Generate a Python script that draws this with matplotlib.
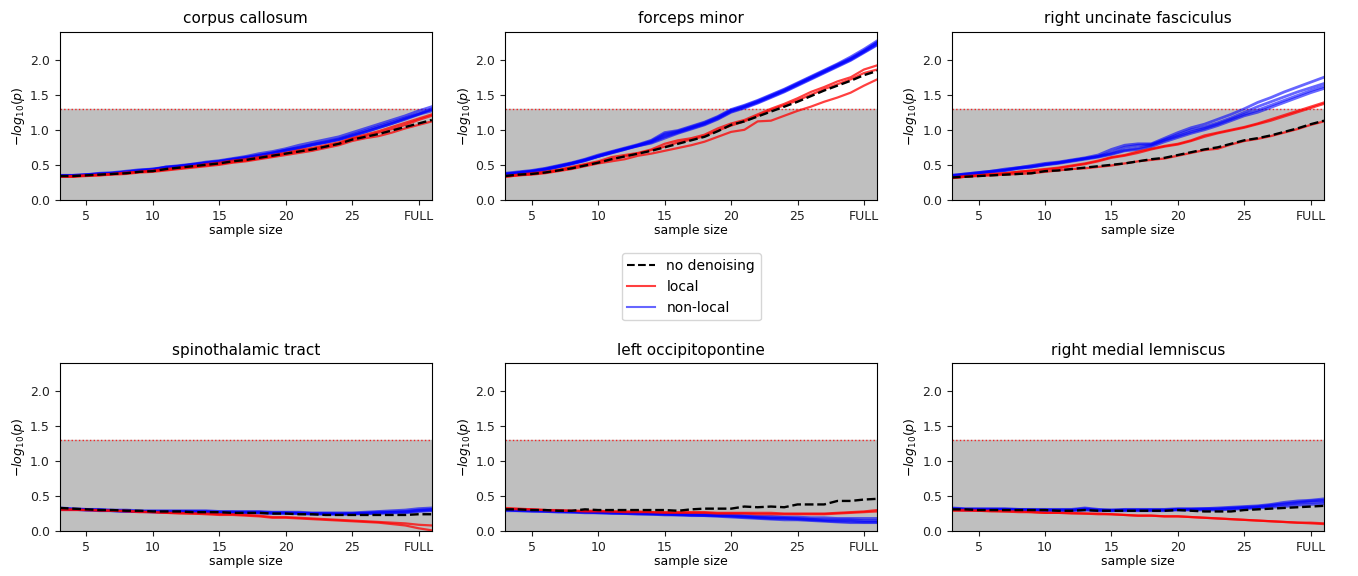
import numpy as np
import matplotlib
matplotlib.use('Agg')
import matplotlib.pyplot as plt

# sample sizes 3..31, the last tick (30) is labelled FULL
sample_sizes = list(range(3, 32))
tick_pos = [5, 10, 15, 20, 25, 30]
tick_labels = ['5', '10', '15', '20', '25', 'FULL']
threshold = 1.3  # -log10(0.05)

titles = ['corpus callosum', 'forceps minor', 'right uncinate fasciculus',
          'spinothalamic tract', 'left occipitopontine', 'right medial lemniscus']

# corpus callosum
cc_none = [0.34, 0.34, 0.35, 0.36, 0.37, 0.38, 0.40, 0.41, 0.44, 0.46, 0.48, 0.50, 0.52, 0.55, 0.57, 0.60, 0.63, 0.66, 0.69, 0.72, 0.76, 0.80, 0.86, 0.90, 0.94, 0.99, 1.04, 1.09, 1.14]
cc_local = [
    [0.34, 0.34, 0.35, 0.36, 0.37, 0.39, 0.40, 0.42, 0.44, 0.46, 0.48, 0.51, 0.53, 0.56, 0.58, 0.61, 0.64, 0.67, 0.71, 0.74, 0.78, 0.82, 0.88, 0.93, 0.98, 1.04, 1.10, 1.16, 1.22],
    [0.33, 0.33, 0.35, 0.35, 0.37, 0.38, 0.40, 0.41, 0.43, 0.45, 0.47, 0.49, 0.51, 0.54, 0.56, 0.59, 0.62, 0.66, 0.69, 0.72, 0.76, 0.80, 0.87, 0.91, 0.96, 1.01, 1.07, 1.14, 1.20],
    [0.33, 0.33, 0.34, 0.35, 0.36, 0.37, 0.39, 0.40, 0.42, 0.44, 0.46, 0.48, 0.50, 0.53, 0.55, 0.58, 0.61, 0.64, 0.67, 0.70, 0.74, 0.78, 0.84, 0.88, 0.91, 0.96, 1.02, 1.07, 1.12],
]
cc_nonlocal = [
    [0.35, 0.35, 0.36, 0.37, 0.38, 0.40, 0.42, 0.43, 0.46, 0.48, 0.50, 0.53, 0.55, 0.58, 0.61, 0.64, 0.67, 0.71, 0.75, 0.79, 0.83, 0.87, 0.93, 0.99, 1.05, 1.11, 1.17, 1.23, 1.29],
    [0.34, 0.34, 0.36, 0.37, 0.38, 0.39, 0.41, 0.43, 0.47, 0.48, 0.51, 0.52, 0.54, 0.57, 0.60, 0.63, 0.66, 0.70, 0.74, 0.79, 0.82, 0.86, 0.92, 0.97, 1.03, 1.09, 1.15, 1.22, 1.27],
    [0.35, 0.35, 0.36, 0.38, 0.39, 0.41, 0.43, 0.44, 0.47, 0.49, 0.51, 0.54, 0.56, 0.59, 0.62, 0.66, 0.69, 0.73, 0.78, 0.82, 0.86, 0.90, 0.96, 1.02, 1.08, 1.14, 1.20, 1.27, 1.33],
    [0.34, 0.35, 0.35, 0.37, 0.38, 0.40, 0.42, 0.44, 0.46, 0.48, 0.50, 0.53, 0.55, 0.58, 0.60, 0.63, 0.67, 0.71, 0.74, 0.78, 0.82, 0.86, 0.91, 0.97, 1.03, 1.09, 1.16, 1.22, 1.30],
]

# forceps minor
fm_none = [0.34, 0.36, 0.37, 0.39, 0.42, 0.45, 0.49, 0.53, 0.58, 0.62, 0.66, 0.70, 0.75, 0.80, 0.85, 0.90, 0.98, 1.07, 1.12, 1.19, 1.26, 1.33, 1.40, 1.48, 1.56, 1.63, 1.70, 1.78, 1.84]
fm_local = [
    [0.34, 0.36, 0.38, 0.40, 0.43, 0.47, 0.51, 0.55, 0.61, 0.64, 0.67, 0.72, 0.80, 0.85, 0.88, 0.93, 1.02, 1.09, 1.14, 1.22, 1.30, 1.37, 1.45, 1.54, 1.61, 1.69, 1.75, 1.86, 1.92],
    [0.33, 0.35, 0.37, 0.39, 0.42, 0.46, 0.50, 0.54, 0.58, 0.62, 0.66, 0.71, 0.76, 0.82, 0.86, 0.91, 0.99, 1.06, 1.12, 1.20, 1.28, 1.35, 1.42, 1.50, 1.58, 1.65, 1.72, 1.81, 1.86],
    [0.33, 0.35, 0.36, 0.38, 0.41, 0.44, 0.48, 0.52, 0.55, 0.58, 0.63, 0.66, 0.70, 0.74, 0.78, 0.83, 0.90, 0.97, 1.00, 1.12, 1.13, 1.20, 1.27, 1.33, 1.40, 1.46, 1.53, 1.63, 1.72],
]
fm_nonlocal = [
    [0.36, 0.38, 0.40, 0.43, 0.47, 0.51, 0.56, 0.62, 0.67, 0.72, 0.77, 0.81, 0.88, 0.95, 1.01, 1.07, 1.15, 1.25, 1.31, 1.38, 1.46, 1.54, 1.63, 1.72, 1.81, 1.90, 1.99, 2.10, 2.21],
    [0.37, 0.39, 0.41, 0.44, 0.48, 0.52, 0.57, 0.63, 0.68, 0.73, 0.78, 0.83, 0.92, 0.97, 1.03, 1.09, 1.17, 1.27, 1.33, 1.40, 1.48, 1.56, 1.65, 1.74, 1.83, 1.92, 2.01, 2.12, 2.24],
    [0.38, 0.40, 0.42, 0.45, 0.49, 0.53, 0.58, 0.64, 0.69, 0.74, 0.79, 0.85, 0.96, 0.99, 1.05, 1.11, 1.19, 1.29, 1.35, 1.42, 1.50, 1.58, 1.67, 1.76, 1.85, 1.94, 2.04, 2.15, 2.27],
    [0.36, 0.39, 0.41, 0.44, 0.48, 0.52, 0.57, 0.62, 0.67, 0.72, 0.78, 0.84, 0.94, 0.98, 1.04, 1.10, 1.18, 1.28, 1.34, 1.41, 1.49, 1.57, 1.66, 1.75, 1.84, 1.93, 2.02, 2.13, 2.25],
    [0.37, 0.38, 0.40, 0.43, 0.47, 0.52, 0.56, 0.62, 0.68, 0.73, 0.77, 0.82, 0.90, 0.96, 1.02, 1.08, 1.16, 1.26, 1.32, 1.39, 1.47, 1.55, 1.64, 1.73, 1.82, 1.91, 2.00, 2.11, 2.22],
]

# right uncinate fasciculus
uf_none = [0.32, 0.33, 0.34, 0.35, 0.36, 0.37, 0.38, 0.41, 0.42, 0.44, 0.46, 0.48, 0.50, 0.52, 0.55, 0.58, 0.60, 0.64, 0.68, 0.72, 0.75, 0.80, 0.85, 0.88, 0.92, 0.97, 1.02, 1.08, 1.13]
uf_local = [
    [0.32, 0.34, 0.35, 0.37, 0.38, 0.40, 0.42, 0.44, 0.46, 0.49, 0.52, 0.56, 0.61, 0.64, 0.69, 0.73, 0.77, 0.80, 0.85, 0.92, 0.96, 1.00, 1.04, 1.09, 1.15, 1.21, 1.27, 1.33, 1.39],
    [0.31, 0.33, 0.35, 0.36, 0.38, 0.40, 0.41, 0.43, 0.45, 0.48, 0.51, 0.55, 0.60, 0.63, 0.67, 0.72, 0.76, 0.79, 0.84, 0.90, 0.95, 0.99, 1.03, 1.08, 1.13, 1.19, 1.25, 1.31, 1.37],
    [0.31, 0.33, 0.34, 0.35, 0.36, 0.37, 0.38, 0.40, 0.42, 0.44, 0.45, 0.47, 0.49, 0.52, 0.55, 0.57, 0.59, 0.63, 0.67, 0.71, 0.73, 0.79, 0.84, 0.87, 0.91, 0.96, 1.01, 1.07, 1.12],
]
uf_nonlocal = [
    [0.34, 0.36, 0.38, 0.40, 0.42, 0.45, 0.47, 0.50, 0.52, 0.55, 0.58, 0.61, 0.65, 0.70, 0.72, 0.76, 0.83, 0.89, 0.95, 1.00, 1.06, 1.13, 1.20, 1.25, 1.32, 1.39, 1.46, 1.53, 1.59],
    [0.35, 0.37, 0.39, 0.41, 0.43, 0.46, 0.48, 0.51, 0.53, 0.56, 0.59, 0.62, 0.66, 0.71, 0.74, 0.78, 0.85, 0.91, 0.97, 1.02, 1.08, 1.15, 1.22, 1.28, 1.35, 1.42, 1.49, 1.56, 1.62],
    [0.35, 0.37, 0.39, 0.41, 0.44, 0.46, 0.49, 0.52, 0.54, 0.57, 0.60, 0.64, 0.72, 0.78, 0.80, 0.80, 0.88, 0.96, 1.03, 1.08, 1.15, 1.22, 1.30, 1.39, 1.46, 1.54, 1.61, 1.68, 1.75],
    [0.34, 0.36, 0.38, 0.40, 0.42, 0.45, 0.47, 0.50, 0.53, 0.56, 0.59, 0.62, 0.68, 0.75, 0.78, 0.79, 0.86, 0.93, 1.00, 1.04, 1.10, 1.17, 1.25, 1.33, 1.40, 1.47, 1.54, 1.60, 1.66],
]

# spinothalamic tract
st_none = [0.33, 0.32, 0.31, 0.30, 0.30, 0.29, 0.29, 0.28, 0.28, 0.28, 0.27, 0.27, 0.27, 0.26, 0.26, 0.26, 0.25, 0.25, 0.24, 0.24, 0.23, 0.23, 0.23, 0.23, 0.23, 0.23, 0.23, 0.24, 0.24]
st_local = [
    [0.31, 0.31, 0.30, 0.30, 0.29, 0.29, 0.28, 0.27, 0.26, 0.26, 0.25, 0.25, 0.24, 0.24, 0.23, 0.22, 0.20, 0.20, 0.19, 0.18, 0.17, 0.16, 0.15, 0.14, 0.13, 0.12, 0.11, 0.09, 0.08],
    [0.30, 0.30, 0.30, 0.29, 0.29, 0.28, 0.27, 0.27, 0.26, 0.25, 0.25, 0.24, 0.23, 0.23, 0.22, 0.21, 0.19, 0.19, 0.18, 0.17, 0.16, 0.15, 0.14, 0.13, 0.12, 0.10, 0.08, 0.04, 0.01],
]
st_nonlocal = [
    [0.32, 0.31, 0.31, 0.30, 0.29, 0.29, 0.28, 0.28, 0.28, 0.28, 0.28, 0.28, 0.27, 0.27, 0.27, 0.27, 0.26, 0.26, 0.26, 0.25, 0.25, 0.25, 0.25, 0.26, 0.27, 0.27, 0.28, 0.30, 0.31],
    [0.31, 0.31, 0.30, 0.29, 0.29, 0.28, 0.28, 0.27, 0.27, 0.27, 0.27, 0.27, 0.26, 0.26, 0.26, 0.26, 0.25, 0.25, 0.25, 0.24, 0.24, 0.24, 0.24, 0.25, 0.25, 0.26, 0.26, 0.28, 0.29],
    [0.33, 0.32, 0.31, 0.31, 0.30, 0.30, 0.29, 0.29, 0.29, 0.29, 0.29, 0.29, 0.28, 0.28, 0.28, 0.28, 0.27, 0.27, 0.27, 0.26, 0.26, 0.26, 0.26, 0.27, 0.28, 0.29, 0.30, 0.32, 0.33],
    [0.32, 0.31, 0.30, 0.30, 0.29, 0.28, 0.28, 0.28, 0.27, 0.28, 0.28, 0.27, 0.27, 0.27, 0.26, 0.26, 0.26, 0.26, 0.25, 0.25, 0.25, 0.24, 0.25, 0.25, 0.26, 0.27, 0.27, 0.29, 0.30],
]

# left occipitopontine
op_none = [0.31, 0.31, 0.30, 0.30, 0.29, 0.29, 0.31, 0.30, 0.30, 0.30, 0.30, 0.30, 0.30, 0.29, 0.31, 0.32, 0.32, 0.32, 0.35, 0.34, 0.35, 0.34, 0.38, 0.38, 0.38, 0.43, 0.43, 0.45, 0.46]
op_local = [
    [0.33, 0.32, 0.31, 0.30, 0.30, 0.29, 0.29, 0.29, 0.28, 0.28, 0.28, 0.27, 0.27, 0.27, 0.27, 0.27, 0.26, 0.26, 0.26, 0.26, 0.26, 0.25, 0.25, 0.25, 0.25, 0.26, 0.27, 0.28, 0.30],
    [0.32, 0.31, 0.31, 0.30, 0.29, 0.29, 0.28, 0.28, 0.28, 0.27, 0.27, 0.27, 0.26, 0.26, 0.26, 0.26, 0.25, 0.25, 0.25, 0.24, 0.24, 0.24, 0.24, 0.24, 0.24, 0.25, 0.26, 0.27, 0.28],
]
op_nonlocal = [
    [0.31, 0.30, 0.29, 0.29, 0.28, 0.28, 0.27, 0.27, 0.26, 0.26, 0.25, 0.25, 0.24, 0.24, 0.23, 0.23, 0.22, 0.22, 0.21, 0.20, 0.19, 0.19, 0.18, 0.17, 0.16, 0.16, 0.16, 0.15, 0.15],
    [0.30, 0.29, 0.29, 0.28, 0.28, 0.27, 0.27, 0.26, 0.26, 0.25, 0.25, 0.24, 0.24, 0.23, 0.23, 0.22, 0.22, 0.21, 0.20, 0.19, 0.18, 0.18, 0.17, 0.16, 0.15, 0.14, 0.14, 0.13, 0.13],
    [0.31, 0.30, 0.30, 0.29, 0.29, 0.28, 0.28, 0.27, 0.27, 0.26, 0.26, 0.25, 0.25, 0.24, 0.24, 0.24, 0.23, 0.23, 0.22, 0.21, 0.21, 0.20, 0.20, 0.19, 0.19, 0.18, 0.18, 0.18, 0.18],
    [0.29, 0.29, 0.28, 0.28, 0.27, 0.27, 0.26, 0.26, 0.25, 0.25, 0.24, 0.24, 0.23, 0.23, 0.22, 0.22, 0.21, 0.20, 0.19, 0.18, 0.17, 0.16, 0.16, 0.15, 0.14, 0.13, 0.12, 0.12, 0.12],
]

# right medial lemniscus
ml_none = [0.31, 0.31, 0.30, 0.30, 0.30, 0.30, 0.30, 0.30, 0.29, 0.29, 0.30, 0.29, 0.29, 0.29, 0.29, 0.29, 0.29, 0.30, 0.29, 0.28, 0.28, 0.28, 0.30, 0.31, 0.32, 0.33, 0.34, 0.35, 0.36]
ml_local = [
    [0.30, 0.30, 0.29, 0.29, 0.28, 0.28, 0.27, 0.26, 0.26, 0.26, 0.25, 0.25, 0.24, 0.23, 0.22, 0.22, 0.21, 0.21, 0.20, 0.19, 0.18, 0.17, 0.16, 0.15, 0.14, 0.13, 0.12, 0.12, 0.11],
    [0.29, 0.29, 0.29, 0.28, 0.28, 0.27, 0.27, 0.26, 0.26, 0.25, 0.25, 0.24, 0.24, 0.23, 0.22, 0.22, 0.21, 0.21, 0.20, 0.19, 0.18, 0.17, 0.16, 0.15, 0.14, 0.13, 0.12, 0.11, 0.10],
]
ml_nonlocal = [
    [0.32, 0.31, 0.31, 0.31, 0.31, 0.30, 0.30, 0.30, 0.30, 0.30, 0.31, 0.30, 0.29, 0.30, 0.30, 0.30, 0.30, 0.31, 0.31, 0.31, 0.31, 0.32, 0.33, 0.34, 0.36, 0.38, 0.40, 0.41, 0.42],
    [0.33, 0.32, 0.32, 0.32, 0.32, 0.31, 0.31, 0.31, 0.31, 0.31, 0.33, 0.31, 0.30, 0.31, 0.31, 0.31, 0.31, 0.32, 0.32, 0.32, 0.33, 0.34, 0.35, 0.36, 0.38, 0.41, 0.43, 0.44, 0.46],
    [0.31, 0.30, 0.30, 0.30, 0.30, 0.30, 0.30, 0.29, 0.29, 0.29, 0.30, 0.29, 0.29, 0.29, 0.29, 0.29, 0.29, 0.30, 0.30, 0.30, 0.30, 0.31, 0.32, 0.33, 0.34, 0.35, 0.37, 0.38, 0.39],
    [0.32, 0.31, 0.31, 0.31, 0.31, 0.31, 0.30, 0.30, 0.30, 0.30, 0.32, 0.30, 0.30, 0.30, 0.30, 0.30, 0.30, 0.31, 0.31, 0.32, 0.32, 0.33, 0.34, 0.35, 0.37, 0.39, 0.41, 0.43, 0.44],
]

panels = [
    (cc_none, cc_local, cc_nonlocal),
    (fm_none, fm_local, fm_nonlocal),
    (uf_none, uf_local, uf_nonlocal),
    (st_none, st_local, st_nonlocal),
    (op_none, op_local, op_nonlocal),
    (ml_none, ml_local, ml_nonlocal),
]

fig = plt.figure(figsize=(13.58, 5.76), dpi=100)

# axes positions in figure fraction
lefts = [0.044, 0.372, 0.701]
bottoms = [0.653, 0.078]
width, height = 0.274, 0.292

for i, (title, (none, local, nonlocal_)) in enumerate(zip(titles, panels)):
    ax = fig.add_axes([lefts[i % 3], bottoms[i // 3], width, height])
    ax.fill_between([3, 31], 0, threshold, color='#bfbfbf', zorder=0)
    ax.axhline(threshold, color='red', linestyle=':', linewidth=1, alpha=0.8, zorder=1)
    for y in nonlocal_:
        ax.plot(sample_sizes, y, color='blue', alpha=0.6, linewidth=2)
    for y in local:
        ax.plot(sample_sizes, y, color='red', alpha=0.75, linewidth=1.6)
    ax.plot(sample_sizes, none, color='black', linestyle='--', linewidth=1.7)
    ax.set_xlim(3, 31)
    ax.set_ylim(0, 2.4)
    ax.set_xticks(tick_pos)
    ax.set_xticklabels(tick_labels)
    ax.set_yticks([0.0, 0.5, 1.0, 1.5, 2.0])
    ax.tick_params(labelsize=9, colors='#222222')
    ax.set_title(title, fontsize=11)
    ax.set_xlabel('sample size', fontsize=9, labelpad=1)
    ax.set_ylabel(r'$-log_{10}(p)$', fontsize=9, labelpad=2)

handles = [
    plt.Line2D([], [], color='black', linestyle='--', linewidth=1.5),
    plt.Line2D([], [], color='red', alpha=0.75, linewidth=1.5),
    plt.Line2D([], [], color='blue', alpha=0.6, linewidth=1.5),
]
fig.legend(handles, ['no denoising', 'local', 'non-local'], loc='center',
           bbox_to_anchor=(0.509, 0.502), fontsize=10)

fig.savefig('out.png', dpi=100)
